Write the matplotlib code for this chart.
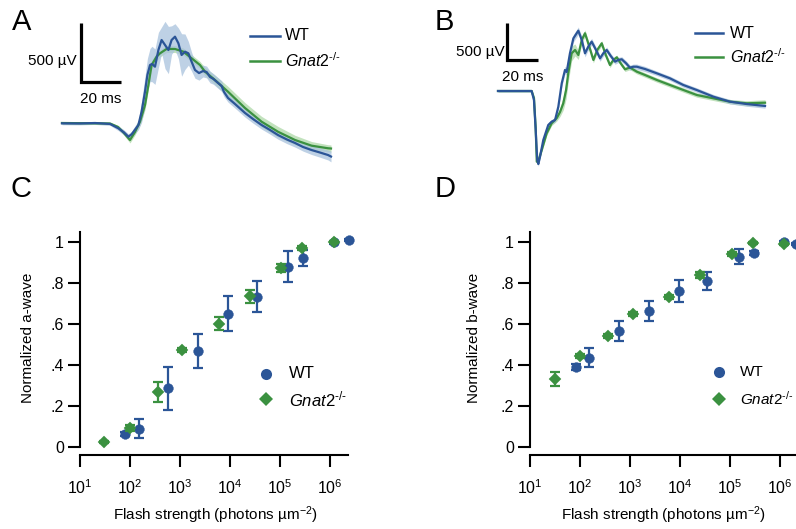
import matplotlib
matplotlib.use("Agg")
import matplotlib.pyplot as plt
from matplotlib.ticker import NullLocator, FixedLocator

plt.rcParams['font.family'] = ['Liberation Sans', 'DejaVu Sans']
plt.rcParams['mathtext.fontset'] = 'custom'
plt.rcParams['mathtext.rm'] = 'Liberation Sans'
plt.rcParams['mathtext.it'] = 'Liberation Sans:italic'
plt.rcParams['mathtext.default'] = 'regular'

BLUE = '#2b5597'
GREEN = '#3b9140'
BLUE_BAND = '#a9c2dd'
GREEN_BAND = '#b3dbad'

# ---------------- data ----------------
# Panel A (time ms, voltage uV)
a_wt_t = [0, 9, 16.5, 24, 28.2, 31, 33.2, 34.8, 38.2, 39.8, 41.5, 42.7, 44, 45, 46.5,
          48.2, 49.8, 51.5, 53.2, 54.8, 56.5, 58.2, 59.8, 61.5, 63.2, 64.8, 66.5, 68.5,
          70.5, 72.3, 74, 75.7, 78, 79.8, 81, 83, 86.5, 91.5, 95.5, 99.8, 104, 108,
          112.5, 116.5, 120.5, 124.8, 129, 133, 134.5]
a_wt_v = [-3, -4, 0, -8, -45, -80, -116, -96, -17, 96, 265, 407, 491, 500, 477,
          618, 703, 661, 618, 703, 731, 675, 576, 604, 590, 519, 449, 423,
          440, 432, 390, 373, 339, 313, 263, 212, 161, 85, 34, -17, -59, -102,
          -140, -169, -203, -229, -250, -271, -284]
a_wt_sem = [12, 12, 12, 12, 20, 22, 25, 25, 40, 90, 130, 140, 140, 150, 150,
            150, 110, 200, 200, 120, 110, 130, 180, 150, 100, 80, 70, 60,
            50, 50, 50, 45, 45, 45, 40, 35, 35, 35, 35, 35, 35, 35,
            35, 35, 35, 38, 40, 42, 45]
a_ko_t = [0, 24, 28, 31, 34, 36.5, 39, 41.5, 43.2, 44.8, 47.3, 49, 52.3, 56.5, 60.7,
          64.8, 69, 71.5, 76.5, 83, 91.5, 99.8, 108, 116.5, 124.8, 133, 134.5]
a_ko_v = [0, -4, -34, -85, -144, -76, 11, 152, 322, 491, 562, 590, 627, 627, 604,
          548, 491, 435, 364, 265, 127, 11, -74, -144, -192, -214, -216]
a_ko_sem = [10, 10, 15, 20, 25, 25, 30, 40, 40, 40, 35, 30, 30, 30, 30,
            30, 30, 35, 40, 45, 45, 45, 45, 40, 35, 30, 30]

# Panel B (time ms, voltage uV)
b_wt_t = [0, 11, 21.7, 23.2, 24.3, 25.3, 26, 27.1, 29.2, 32.4, 34.6, 36.8, 38.9, 41.1,
          43.2, 44.3, 46.4, 48.6, 51.8, 54, 56.1, 58.2, 60.4, 63.2, 65.8, 67.9, 70.1,
          72.7, 75.5, 77.6, 79.8, 82.6, 85.1, 87.3, 89.5, 94.8, 102.4, 110.9, 119.5,
          128.2, 138.9, 149.6, 160.4, 172.2]
b_wt_v = [0, 0, 0, -122, -527, -932, -986, -887, -662, -459, -414, -392, -212, 104,
          284, 257, 509, 711, 814, 689, 509, 598, 666, 554, 441, 509, 554,
          473, 396, 419, 428, 374, 315, 328, 328, 297, 239, 171, 81,
          13, -77, -144, -176, -202]
b_wt_sem = [15, 15, 15, 20, 30, 30, 30, 30, 30, 30, 30, 30, 40, 50,
            50, 50, 50, 50, 50, 50, 50, 45, 45, 40, 40, 40, 40,
            35, 35, 35, 35, 35, 35, 35, 35, 35, 30, 30, 30,
            30, 30, 30, 30, 30]
b_ko_t = [0, 21.7, 23.2, 24.3, 25, 25.8, 28.2, 31.4, 34.6, 37.9, 40, 42.1, 43.9, 45.3,
          47.5, 49.7, 51.8, 54, 56.1, 58.2, 61.5, 64, 66.9, 69.5, 72.2, 74.4, 76.6,
          79.1, 81.9, 85.1, 89.5, 94.8, 102.4, 110.9, 119.5, 128.2, 138.9, 149.6,
          160.4, 172.2]
b_ko_v = [0, 0, -95, -500, -954, -958, -797, -571, -436, -365, -284, -166, 14, 239,
          509, 554, 486, 689, 779, 644, 419, 554, 644, 486, 351, 419, 455,
          374, 293, 317, 261, 216, 149, 81, 14, -54, -99, -144, -166, -158]
b_ko_sem = [15, 15, 20, 30, 30, 30, 30, 30, 30, 40, 60, 90, 120, 120,
            100, 80, 60, 50, 45, 40, 40, 35, 35, 35, 35, 30, 30,
            30, 30, 30, 30, 30, 30, 30, 30, 30, 30, 30, 35, 40]

SCALE_UV = 500
SCALE_MS = 20

# Panel C (a-wave)
c_wt_x = [80, 154, 585, 2330, 9100, 34800, 146000, 294000, 1.2e6, 2.35e6]
c_wt_y = [0.063, 0.09, 0.288, 0.47, 0.651, 0.734, 0.881, 0.923, 1.0, 1.011]
c_wt_e = [0.01, 0.047, 0.105, 0.083, 0.086, 0.076, 0.077, 0.039, 0.008, 0.005]
c_ko_x = [30, 98, 363, 1120, 5900, 25100, 107000, 270000, 1.2e6]
c_ko_y = [0.024, 0.093, 0.269, 0.472, 0.603, 0.736, 0.876, 0.972, 1.0]
c_ko_e = [0.005, 0.015, 0.047, 0.01, 0.034, 0.033, 0.02, 0.01, 0.005]

# Panel D (b-wave)
d_wt_x = [82, 154, 590, 2350, 9400, 35400, 152000, 308000, 1.2e6, 2.1e6]
d_wt_y = [0.389, 0.436, 0.567, 0.663, 0.762, 0.811, 0.93, 0.948, 1.003, 0.99]
d_wt_e = [0.015, 0.047, 0.049, 0.05, 0.056, 0.042, 0.037, 0.008, 0.005, 0.005]
d_ko_x = [31, 102, 363, 1170, 5900, 25100, 112000, 288000, 1.2e6]
d_ko_y = [0.331, 0.443, 0.541, 0.648, 0.733, 0.84, 0.943, 0.998, 0.99]
d_ko_e = [0.033, 0.01, 0.01, 0.01, 0.01, 0.015, 0.01, 0.005, 0.005]

y_ticks = [0, 0.2, 0.4, 0.6, 0.8, 1.0]
y_tick_labels = ['0', '.2', '.4', '.6', '.8', '1']
x_ticks = [1e1, 1e2, 1e3, 1e4, 1e5, 1e6]
x_tick_labels = ['10$^{1}$', '10$^{2}$', '10$^{3}$', '10$^{4}$', '10$^{5}$', '10$^{6}$']

WT_LABEL = 'WT'
KO_LABEL = '$\\mathit{Gnat2}^{\u2010/\u2010}$'

# ---------------- layout ----------------
W, H = 796, 529
fig = plt.figure(figsize=(W / 100, H / 100), dpi=100)


def box(x0, y0, x1, y1):
    return [x0 / W, 1 - y1 / H, (x1 - x0) / W, (y1 - y0) / H]


def fxy(px, py):
    return px / W, 1 - py / H


def trace_panel(ax, wt_t, wt_v, wt_s, ko_t, ko_v, ko_s):
    ax.fill_between(ko_t, [v - s for v, s in zip(ko_v, ko_s)],
                    [v + s for v, s in zip(ko_v, ko_s)], color=GREEN_BAND,
                    lw=0, alpha=0.8, zorder=1)
    ax.fill_between(wt_t, [v - s for v, s in zip(wt_v, wt_s)],
                    [v + s for v, s in zip(wt_v, wt_s)], color=BLUE_BAND,
                    lw=0, alpha=0.75, zorder=1.5)
    ax.plot(ko_t, ko_v, color=GREEN, lw=1.6, zorder=2)
    ax.plot(wt_t, wt_v, color=BLUE, lw=1.6, zorder=3)
    ax.axis('off')


# Panel A
axA = fig.add_axes(box(50, 10, 340, 170))
trace_panel(axA, a_wt_t, a_wt_v, a_wt_sem, a_ko_t, a_ko_v, a_ko_sem)
axA.set_xlim(-6, 139)
axA.set_ylim(-398, 957)
sbx, sby = 9.5, 347
axA.plot([sbx, sbx, sbx + SCALE_MS], [sby + SCALE_UV, sby, sby], color='black',
         lw=2.3, solid_capstyle='butt', solid_joinstyle='miter', clip_on=False)
axA.text(sbx - 2, sby + 178, f'{SCALE_UV} µV', ha='right', va='center', fontsize=11)
axA.text(sbx + SCALE_MS / 2, sby - 144, f'{SCALE_MS} ms', ha='center', va='center', fontsize=11)
axA.plot([94, 109], [737, 737], color=BLUE, lw=1.8)
axA.plot([94, 109], [525, 525], color=GREEN, lw=1.8)
axA.text(111.5, 737, WT_LABEL, ha='left', va='center', fontsize=11.5)
axA.text(111.5, 525, KO_LABEL, ha='left', va='center', fontsize=11.5)

# Panel B
axB = fig.add_axes(box(490, 10, 790, 175))
trace_panel(axB, b_wt_t, b_wt_v, b_wt_sem, b_ko_t, b_ko_v, b_ko_sem)
axB.set_xlim(-5.16, 188.3)
axB.set_ylim(-1134, 1093.5)
sbx, sby = 5.8, 418.5
axB.plot([sbx, sbx, sbx + SCALE_MS], [sby + SCALE_UV, sby, sby], color='black',
         lw=2.3, solid_capstyle='butt', solid_joinstyle='miter', clip_on=False)
axB.text(sbx - 1.3, sby + 108, f'{SCALE_UV} µV', ha='right', va='center', fontsize=11)
axB.text(sbx + SCALE_MS / 2, sby - 230, f'{SCALE_MS} ms', ha='center', va='center', fontsize=11)
axB.plot([127, 145], [783, 783], color=BLUE, lw=1.8)
axB.plot([127, 145], [459, 459], color=GREEN, lw=1.8)
axB.text(149.6, 783, WT_LABEL, ha='left', va='center', fontsize=11.5)
axB.text(149.6, 459, KO_LABEL, ha='left', va='center', fontsize=11.5)


def dose_panel(ax, wt_x, wt_y, wt_e, ko_x, ko_y, ko_e, ylabel, xmax_log, ylab_x, xlab_x):
    ax.set_xscale('log')
    ax.set_xlim(10, 10 ** xmax_log)
    ax.set_ylim(-0.039, 1.05)
    for xs, ys, es, col, mk, ms, z in [(wt_x, wt_y, wt_e, BLUE, 'o', 7, 3),
                                        (ko_x, ko_y, ko_e, GREEN, 'D', 6.2, 4)]:
        ax.errorbar(xs, ys, yerr=es, fmt='none', ecolor=col, elinewidth=1.6,
                    capsize=3.5, capthick=1.6, clip_on=False, zorder=z)
        ax.plot(xs, ys, ls='none', marker=mk, ms=ms, color=col, mec=col, mew=0.3,
                clip_on=False, zorder=z + 0.5)
    for s in ('top', 'right'):
        ax.spines[s].set_visible(False)
    for s in ('left', 'bottom'):
        ax.spines[s].set_linewidth(1.5)
    ax.spines['left'].set_bounds(0, 1.05)
    ax.xaxis.set_major_locator(FixedLocator(x_ticks))
    ax.xaxis.set_minor_locator(NullLocator())
    ax.set_xticklabels(x_tick_labels)
    ax.set_yticks(y_ticks)
    ax.set_yticklabels(y_tick_labels)
    ax.tick_params(axis='both', length=8.5, width=1.5, labelsize=11.5)
    ax.tick_params(axis='y', pad=3)
    ax.tick_params(axis='x', pad=8)
    ax.set_ylabel(ylabel, fontsize=11)
    ax.set_xlabel('Flash strength (photons µm$^{-2}$)', fontsize=11)
    ax.yaxis.label.set_va('center')
    ax.xaxis.label.set_va('center')
    ax.yaxis.set_label_coords(ylab_x, 0.525)
    ax.xaxis.set_label_coords(xlab_x, -0.269)
    ax.patch.set_alpha(0)


axC = fig.add_axes(box(80, 232, 348, 455))
dose_panel(axC, c_wt_x, c_wt_y, c_wt_e, c_ko_x, c_ko_y, c_ko_e,
           'Normalized a-wave', 6.36, (28 - 80) / 268, (215 - 80) / 268)

axD = fig.add_axes(box(530, 232, 850, 455))
dose_panel(axD, d_wt_x, d_wt_y, d_wt_e, d_ko_x, d_ko_y, d_ko_e,
           'Normalized b-wave', 7.4, (474 - 530) / 320, (663 - 530) / 320)


def marker_legend(px, py_wt, py_ko, tx, fs):
    x, y = fxy(px, py_wt)
    fig.add_artist(plt.Line2D([x], [y], marker='o', color=BLUE, ms=8, mew=0,
                              transform=fig.transFigure))
    x, y = fxy(px, py_ko)
    fig.add_artist(plt.Line2D([x], [y], marker='D', color=GREEN, ms=7.5, mew=0,
                              transform=fig.transFigure))
    fig.text(*fxy(tx, py_wt), WT_LABEL, ha='left', va='center', fontsize=fs)
    fig.text(*fxy(tx, py_ko), KO_LABEL, ha='left', va='center', fontsize=fs)


marker_legend(266, 374, 399, 289, 12)
marker_legend(719, 372, 399, 740, 11)

# Panel letters
for letter, px, py in [('A', 12, 30), ('B', 435, 30), ('C', 10, 197), ('D', 435, 197)]:
    fig.text(*fxy(px, py), letter, ha='left', va='baseline', fontsize=21)

fig.savefig('out.png', dpi=100)
